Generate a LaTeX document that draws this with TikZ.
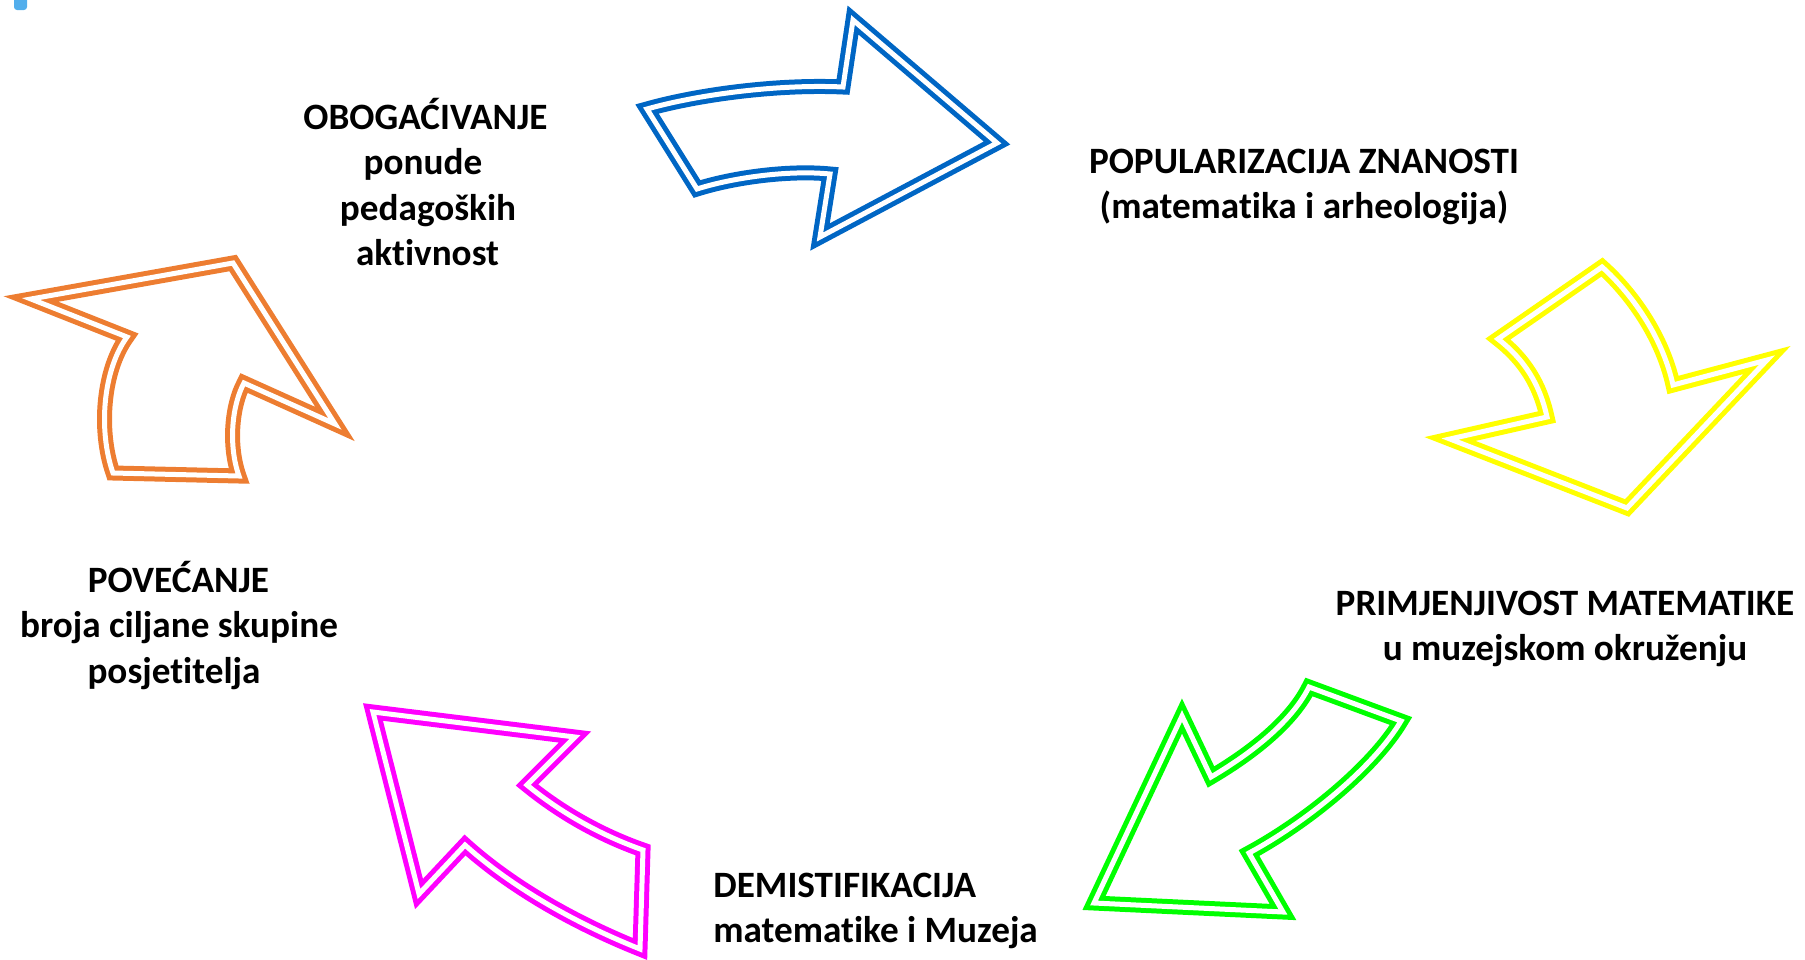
\documentclass[tikz,border=0pt]{standalone}
\usepackage{fontspec}
\setmainfont{Carlito}[Ligatures=NoCommon]
\definecolor{cblue}{HTML}{0066C4}
\definecolor{cyellow}{HTML}{FFFF00}
\definecolor{cgreen}{HTML}{00FF00}
\definecolor{cmagenta}{HTML}{FF00FF}
\definecolor{corange}{HTML}{ED7D31}
\definecolor{cmark}{HTML}{52AEEC}
\tikzset{
  arr/.style={draw=#1, double=white, double distance=2.5pt, line width=2.5pt, line join=miter, miter limit=20},
  lbl/.style={inner sep=0pt, font=\fontsize{18.6}{20}\selectfont\bfseries, text=black}
}
\begin{document}
\begin{tikzpicture}[x=0.5pt, y=-0.5pt]
\useasboundingbox (0,0) rectangle (1805,959);
% small mark at top left
\fill[cmark, rounded corners=1.5pt] (14,-5) rectangle (27,10);
% blue arrow
\draw[arr=cblue] (647,109) .. controls (700,94) and (780,84) .. (843,87) -- (853,20) -- (997,143) -- (820,237) -- (830,174) .. controls (790,170) and (735,177) .. (697,189) -- cycle;
% yellow arrow
\draw[arr=cyellow] (1602,267) .. controls (1630,292) and (1662,335) .. (1673,385) -- (1767,360) -- (1627,508) -- (1450,439) -- (1547,417) .. controls (1540,385) and (1525,360) .. (1498,339) -- cycle;
% green arrow
\draw[arr=cgreen] (1182,716) -- (1211,777) .. controls (1245,757) and (1290,725) .. (1309,687) -- (1401,721) .. controls (1375,765) and (1310,820) .. (1249,853) -- (1283,912) -- (1094,903) -- cycle;
% magenta arrow
\draw[arr=cmagenta] (373,712) -- (575,737) -- (527,785) .. controls (560,812) and (600,835) .. (643,850) -- (640,949) .. controls (580,925) and (515,890) .. (465,845) -- (419,894) -- cycle;
% orange arrow
\draw[arr=corange] (31,299) -- (233,263) -- (335,424) -- (244,383) .. controls (232,405) and (228,445) .. (239,476) -- (113,473) .. controls (98,430) and (103,370) .. (127,337) -- cycle;
% texts
\node[lbl, anchor=base] (ob1) at (425.5,129) {OBOGAĆIVANJE};
\node[lbl, anchor=base] (ob2) at (423,174.5) {ponude};
\node[lbl, anchor=base] (ob3) at (428,220) {pedagoških};
\node[lbl, anchor=base] (ob4) at (427.5,265.5) {aktivnost};
\node[lbl, anchor=base] (po1) at (1304,173.3) {POPULARIZACIJA ZNANOSTI};
\node[lbl, anchor=base] (po2) at (1304,218.8) {(matematika i arheologija)};
\node[lbl, anchor=base] (pr1) at (1565,615) {PRIMJENJIVOST MATEMATIKE};
\node[lbl, anchor=base] (pr2) at (1565,660.5) {u muzejskom okruženju};
\node[lbl, anchor=base west] (de1) at (713,897) {DEMISTIFIKACIJA};
\node[lbl, anchor=base west] (de2) at (713,942.5) {matematike i Muzeja};
\node[lbl, anchor=base] (pv1) at (178.5,592) {POVEĆANJE};
\node[lbl, anchor=base] (pv2) at (179,637.5) {broja ciljane skupine};
\node[lbl, anchor=base] (pv3) at (174,683) {posjetitelja};
\end{tikzpicture}
\end{document}
